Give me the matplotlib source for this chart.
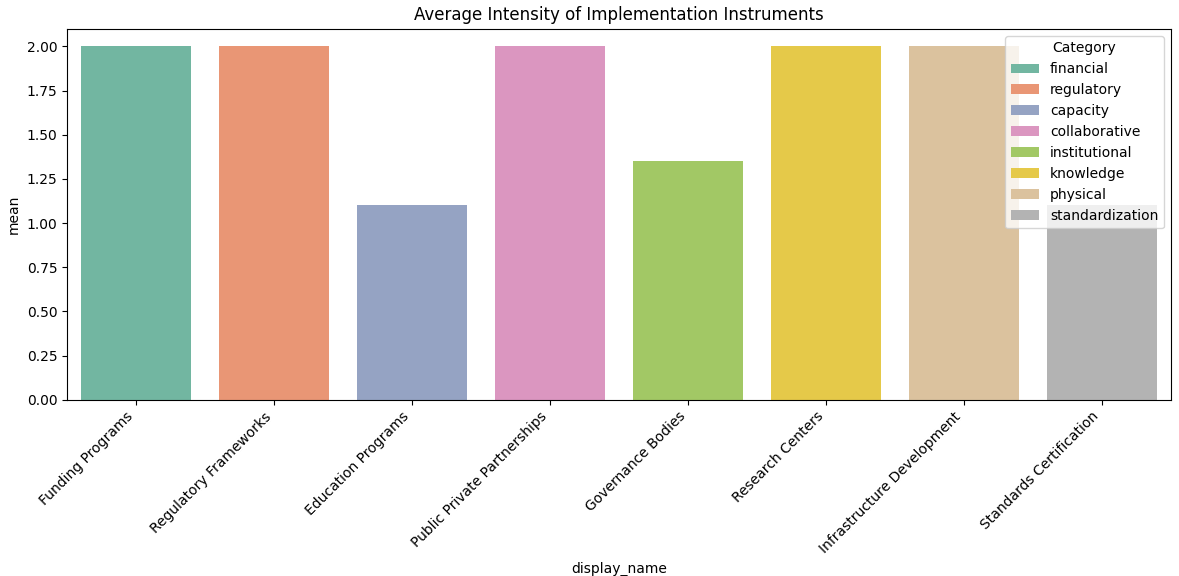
import pandas as pd
import seaborn as sns
from matplotlib import pyplot as plt

# instrument data
names = ["Funding Programs", "Regulatory Frameworks", "Education Programs",
         "Public Private Partnerships", "Governance Bodies", "Research Centers",
         "Infrastructure Development", "Standards Certification"]
categories = ["financial", "regulatory", "capacity", "collaborative",
              "institutional", "knowledge", "physical", "standardization"]
means = [2.0, 2.0, 1.1, 2.0, 1.35, 2.0, 2.0, 1.1]

df = pd.DataFrame({"display_name": names, "mean": means, "Category": categories})

fig, ax = plt.subplots(figsize=(11.79, 5.76), dpi=100)
sns.barplot(data=df, x="display_name", y="mean", hue="Category",
            palette="Set2", dodge=False, ax=ax)
ax.set_title("Average Intensity of Implementation Instruments")
plt.setp(ax.get_xticklabels(), rotation=45, ha="right")
ax.legend(title="Category", loc="upper right")
plt.subplots_adjust(left=0.057, right=0.993, top=0.95, bottom=0.306)
plt.savefig("out.png")
